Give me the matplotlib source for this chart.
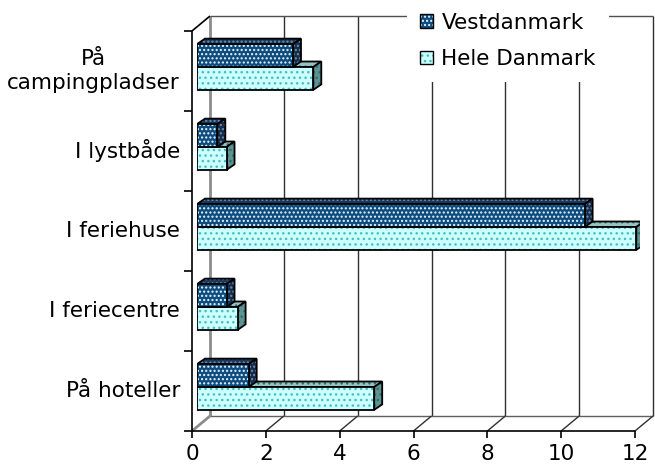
import matplotlib
matplotlib.use("Agg")
import matplotlib.pyplot as plt
from matplotlib.patches import Patch

plt.rcParams['font.family'] = ['DejaVu Sans']
plt.rcParams['hatch.linewidth'] = 1.0

# data
categories = ["På hoteller", "I feriecentre", "I feriehuse", "I lystbåde", "På\ncampingpladser"]
vestdanmark = [1.4, 0.8, 10.5, 0.55, 2.6]
hele_danmark = [4.8, 1.1, 11.9, 0.8, 3.15]
xticks = [0, 2, 4, 6, 8, 10, 12]
series_names = ["Vestdanmark", "Hele Danmark"]

W, H = 655, 465
FS = 15.5
fig = plt.figure(figsize=(W / 100, H / 100), dpi=100)
fig.patch.set_facecolor("white")

# axes = plane of the bars' front faces (pixel geometry of the reference)
ax_l, ax_top, ax_w, ax_h = 197, 27, 443, 400
ax = fig.add_axes([ax_l / W, (H - ax_top - ax_h) / H, ax_w / W, ax_h / H])
ax.set_xlim(0, 12)
ax.set_ylim(-0.5, 4.5)
ax.axis("off")

PX = ax_w / 12.0   # pixels per value unit
PY = ax_h / 5.0    # pixels per category unit


def px(dx, dy):
    return dx / PX, dy / PY


FRONT = px(-5, -4)
BACK = px(13, 11)
DEPTH = px(8, 5.5)

wall = dict(clip_on=False, zorder=1, solid_capstyle="butt")


def line(p, q, off_p, off_q, **kw):
    ax.plot([p[0] + off_p[0], q[0] + off_q[0]], [p[1] + off_p[1], q[1] + off_q[1]], **{**wall, **kw})


ymin, ymax = -0.5, 4.5
xmax = xticks[-1]

# back wall gridlines
for x in xticks:
    if x == 0:
        line((x, ymin), (x, ymax), BACK, BACK, color="#8c8c8c", lw=2)
    else:
        line((x, ymin), (x, ymax), BACK, BACK, color="#303030", lw=1)
line((0, ymax), (xmax, ymax), BACK, BACK, color="#505050", lw=1)
line((0, ymin), (xmax, ymin), BACK, BACK, color="#606060", lw=1)

# floor diagonals
for x in xticks:
    if x == 0:
        line((x, ymin), (x, ymin), FRONT, BACK, color="#8c8c8c", lw=2)
    else:
        line((x, ymin), (x, ymin), FRONT, BACK, color="#303030", lw=1)

# front axes
line((0, ymin), (0, ymax), FRONT, FRONT, color="black", lw=1.2)
line((0, ymin), (xmax, ymin), FRONT, FRONT, color="black", lw=1.2)
line((0, ymax), (0, ymax), FRONT, BACK, color="black", lw=1.2)

# ticks
tl = px(-8, 0)
for k in range(len(categories) + 1):
    y = k - 0.5
    line((0, y), (tl[0], y), FRONT, FRONT, color="black", lw=1.2)
td = px(0, -7)
for x in xticks:
    line((x, ymin), (x, ymin + td[1]), FRONT, FRONT, color="black", lw=1.2)

# tick labels
lx = FRONT[0] + px(-12, 0)[0]
for i, c in enumerate(categories):
    ax.text(lx, i + FRONT[1], c, ha="right", va="center", multialignment="center",
            fontsize=FS, linespacing=1.3, clip_on=False)
ly = ymin + FRONT[1] + px(0, -13)[1]
for x in xticks:
    ax.text(x + FRONT[0], ly, str(x), ha="center", va="top", fontsize=FS, clip_on=False)

# bars
bh = 0.286
styles = {
    "Vestdanmark": dict(front="#0e4c7e", top="#17385c", side="#152d4b", hatch_c="#e8f4ff",
                        hatch_top="#6f8fb0", hatch="....", off=+bh / 2),
    "Hele Danmark": dict(front="#ccffff", top="#96c4c4", side="#5f9292", hatch_c="#4cbcbc",
                         hatch_top="#2f6f6f", hatch="...", off=-bh / 2),
}


def face(xs, ys, fc, hc, hatch):
    ax.fill(xs, ys, facecolor=fc, edgecolor=hc, hatch=hatch, lw=0, zorder=3)
    ax.fill(xs, ys, fill=False, edgecolor="black", lw=1.3, zorder=3, joinstyle="miter")


ddx, ddy = DEPTH
for name, vals in (("Hele Danmark", hele_danmark), ("Vestdanmark", vestdanmark)):
    s = styles[name]
    for i, v in enumerate(vals):
        yc = i + s["off"]
        b, t = yc - bh / 2, yc + bh / 2
        face([0, v, v + ddx, ddx], [t, t, t + ddy, t + ddy], s["top"], s["hatch_top"], s["hatch"])
        face([v, v, v + ddx, v + ddx], [b, t, t + ddy, b + ddy], s["side"], s["hatch_top"], s["hatch"])
    ys = [i + s["off"] for i in range(len(vals))]
    ax.barh(ys, vals, height=bh, color=s["front"], edgecolor=s["hatch_c"], hatch=s["hatch"],
            lw=0, zorder=3)
    ax.barh(ys, vals, height=bh, fill=False, edgecolor="black", lw=1.3, zorder=3)

# legend
handles = []
for name in series_names:
    s = styles[name]
    handles.append((Patch(facecolor=s["front"], edgecolor=s["hatch_c"], hatch=s["hatch"], lw=0),
                    Patch(fill=False, edgecolor="black", lw=1)))
leg = fig.legend(handles, series_names, loc="upper left", bbox_to_anchor=(407 / W, 1.0),
                 fontsize=FS, frameon=True, fancybox=False, facecolor="white", edgecolor="none",
                 framealpha=1, handlelength=0.6, handleheight=0.6, handletextpad=0.4,
                 labelspacing=0.75, borderpad=0.6, borderaxespad=0)
leg.set_zorder(10)

fig.savefig("out.png", dpi=100)
